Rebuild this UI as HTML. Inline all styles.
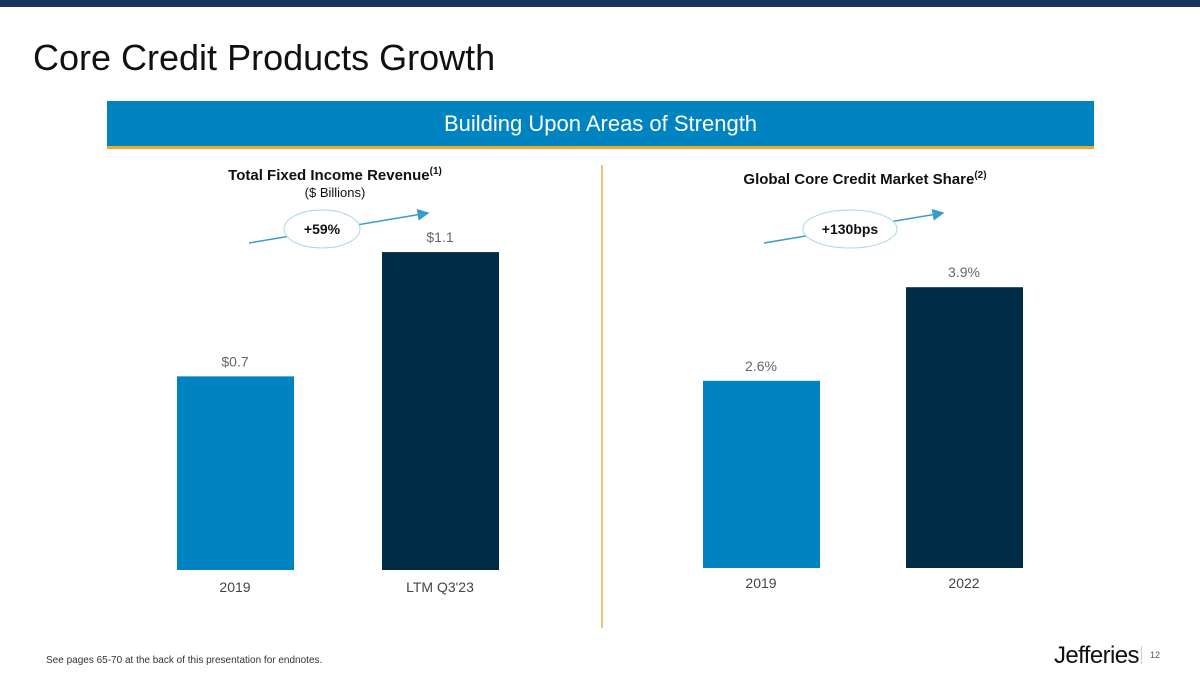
<!DOCTYPE html>
<html><head><meta charset="utf-8"><style>
body{margin:0;width:1200px;height:675px;position:relative;background:#fff;font-family:"Liberation Sans",sans-serif;overflow:hidden}
.a{position:absolute}
</style></head><body>
<div class="a" style="left:0;top:0;width:1200px;height:7px;background:#15335c"></div>
<div class="a" style="left:33px;top:37px;font-size:36px;color:#111">Core Credit Products Growth</div>
<div class="a" style="left:107px;top:101px;width:987px;height:45px;background:#0083c1;border-bottom:3px solid #f0a830;color:#fff;font-size:22px;text-align:center;line-height:45px">Building Upon Areas of Strength</div>
<div class="a" style="left:601px;top:165px;width:2px;height:463px;background:#edc27a"></div>
<div class="a" style="left:185px;top:166px;width:300px;text-align:center;font-size:15px;font-weight:bold;color:#111">Total Fixed Income Revenue<sup style="font-size:10px">(1)</sup><div style="font-weight:normal;font-size:13px;margin-top:1px">($ Billions)</div></div>
<div class="a" style="left:700px;top:170px;width:330px;text-align:center;font-size:15px;font-weight:bold;color:#111">Global Core Credit Market Share<sup style="font-size:10px">(2)</sup></div>
<svg class="a" style="left:0;top:0" width="1200" height="675" id="svg">
<defs><marker id="ar" markerWidth="8" markerHeight="8" refX="7" refY="4" orient="auto"><path d="M0,0L8,4L0,8z" fill="#3a9cc8"/></marker></defs>
<line x1="249" y1="243" x2="428" y2="213" stroke="#3a9cc8" stroke-width="1.5" marker-end="url(#ar)"/>
<ellipse cx="322" cy="229" rx="38" ry="19" fill="#fff" stroke="#a9d6e8"/>
<text x="322" y="234" text-anchor="middle" font-size="14" font-weight="bold" fill="#111">+59%</text>
<line x1="764" y1="243" x2="943" y2="213" stroke="#3a9cc8" stroke-width="1.5" marker-end="url(#ar)"/>
<ellipse cx="850" cy="229" rx="47" ry="19" fill="#fff" stroke="#a9d6e8"/>
<text x="850" y="234" text-anchor="middle" font-size="14" font-weight="bold" fill="#111">+130bps</text>
</svg>
<div class="a" style="left:46px;top:655px;font-size:10px;color:#333">See pages 65-70 at the back of this presentation for endnotes.</div>
<div class="a" style="left:1054px;top:642px;font-size:24px;color:#111;letter-spacing:-0.6px">Jefferies</div>
<div class="a" style="left:1141px;top:646px;width:1px;height:18px;background:#ccc"></div>
<div class="a" style="left:1150px;top:650px;font-size:9px;color:#555">12</div>
<script>
const leftCats=["2019","LTM Q3'23"];
const leftVals=[0.67,1.10];
const leftLabels=["$0.7","$1.1"];
const rightCats=["2019","2022"];
const rightVals=[2.6,3.9];
const rightLabels=["2.6%","3.9%"];
const colors=["#0083c1","#012c45"];
const svg=document.getElementById('svg');
const NS="http://www.w3.org/2000/svg";
function draw(cats,vals,labels,xs,base,k,catY,prefix){
  cats.forEach((c,i)=>{
    const h=vals[i]*k;
    const r=document.createElementNS(NS,'rect');
    r.setAttribute('x',xs[i]);r.setAttribute('y',base-h);r.setAttribute('width',117);r.setAttribute('height',h);r.setAttribute('fill',colors[i]);
    
    
    svg.insertBefore(r,svg.firstChild.nextSibling);
    const t=document.createElementNS(NS,'text');
    t.setAttribute('x',xs[i]+58);t.setAttribute('y',base-h-10);t.setAttribute('text-anchor','middle');t.setAttribute('font-size','14');t.setAttribute('fill','#666');
    t.textContent=labels[i];
    
    
    svg.appendChild(t);
    const c2=document.createElementNS(NS,'text');
    c2.setAttribute('x',xs[i]+58);c2.setAttribute('y',catY);c2.setAttribute('text-anchor','middle');c2.setAttribute('font-size','14');c2.setAttribute('fill','#444');
    c2.textContent=c;
    
    
    svg.appendChild(c2);
  });
}
draw(leftCats,leftVals,leftLabels,[177,382],570,289,592,'left');
draw(rightCats,rightVals,rightLabels,[703,906],568,72,588,'right');
</script>
</body></html>
